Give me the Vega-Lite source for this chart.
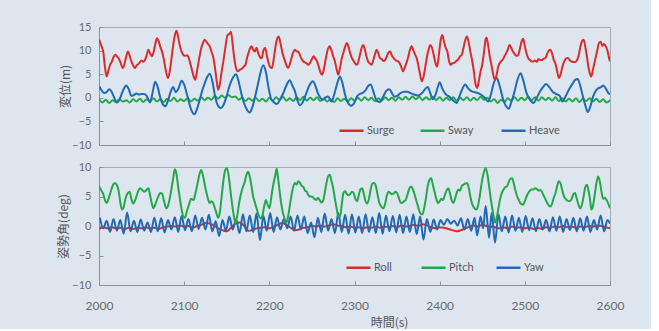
{
"$schema": "https://vega.github.io/schema/vega-lite/v6.json",
"background": "#dde6ee",
"padding": {"left": 56, "top": 20, "right": 26, "bottom": 0},
"spacing": 22,
"bounds": "flush",
"config": {
  "view": {"stroke": "#a3abb3", "strokeWidth": 1},
  "axis": {"domainColor": "#8c9196", "tickColor": "#8c9196", "labelColor": "#6a6a6a", "titleColor": "#555555", "grid": false, "labelFont": "Lato", "labelFontSize": 11, "titleFont": "Noto Sans CJK JP", "titleFontSize": 12, "titleFontWeight": "normal", "tickSize": -4, "labelFlush": false},
  "legend": {"labelFont": "Lato", "labelFontSize": 11, "labelColor": "#555555"}
},
"resolve": {"scale": {"color": "independent", "y": "independent"}, "legend": {"color": "independent"}},
"datasets": {
"top": [
{"k":"Sway","t":2000,"v":-0.2},{"k":"Sway","t":2004,"v":-1.0},{"k":"Sway","t":2008,"v":-0.4},{"k":"Sway","t":2012,"v":-1.1},{"k":"Sway","t":2016,"v":-0.5},{"k":"Sway","t":2020,"v":-0.9},{"k":"Sway","t":2024,"v":-0.3},{"k":"Sway","t":2028,"v":-0.8},{"k":"Sway","t":2032,"v":-0.5},{"k":"Sway","t":2036,"v":-1.0},{"k":"Sway","t":2040,"v":-0.3},{"k":"Sway","t":2044,"v":-0.8},{"k":"Sway","t":2048,"v":-0.2},{"k":"Sway","t":2052,"v":-0.9},{"k":"Sway","t":2056,"v":-0.3},{"k":"Sway","t":2060,"v":-0.7},{"k":"Sway","t":2064,"v":-0.1},{"k":"Sway","t":2068,"v":-0.8},{"k":"Sway","t":2072,"v":-0.3},{"k":"Sway","t":2076,"v":-0.9},{"k":"Sway","t":2080,"v":-0.2},{"k":"Sway","t":2084,"v":-0.7},{"k":"Sway","t":2088,"v":0.0},{"k":"Sway","t":2092,"v":-0.8},{"k":"Sway","t":2096,"v":-0.3},{"k":"Sway","t":2100,"v":-0.7},{"k":"Sway","t":2104,"v":-0.1},{"k":"Sway","t":2108,"v":-0.8},{"k":"Sway","t":2112,"v":-0.2},{"k":"Sway","t":2116,"v":-0.6},{"k":"Sway","t":2120,"v":0.1},{"k":"Sway","t":2124,"v":-0.5},{"k":"Sway","t":2128,"v":0.0},{"k":"Sway","t":2132,"v":-0.4},{"k":"Sway","t":2136,"v":0.4},{"k":"Sway","t":2140,"v":-0.2},{"k":"Sway","t":2144,"v":0.5},{"k":"Sway","t":2148,"v":0.0},{"k":"Sway","t":2152,"v":0.6},{"k":"Sway","t":2156,"v":0.1},{"k":"Sway","t":2160,"v":0.3},{"k":"Sway","t":2164,"v":-0.4},{"k":"Sway","t":2168,"v":0.0},{"k":"Sway","t":2172,"v":-0.7},{"k":"Sway","t":2176,"v":-0.1},{"k":"Sway","t":2180,"v":-0.6},{"k":"Sway","t":2184,"v":0.0},{"k":"Sway","t":2188,"v":-0.7},{"k":"Sway","t":2192,"v":-0.2},{"k":"Sway","t":2196,"v":-0.8},{"k":"Sway","t":2200,"v":0.0},{"k":"Sway","t":2204,"v":-0.6},{"k":"Sway","t":2208,"v":0.1},{"k":"Sway","t":2212,"v":-0.5},{"k":"Sway","t":2216,"v":0.2},{"k":"Sway","t":2220,"v":-0.6},{"k":"Sway","t":2224,"v":-0.1},{"k":"Sway","t":2228,"v":-0.7},{"k":"Sway","t":2232,"v":0.1},{"k":"Sway","t":2236,"v":-0.5},{"k":"Sway","t":2240,"v":0.2},{"k":"Sway","t":2244,"v":-0.6},{"k":"Sway","t":2248,"v":0.0},{"k":"Sway","t":2252,"v":-0.5},{"k":"Sway","t":2256,"v":0.1},{"k":"Sway","t":2260,"v":-0.7},{"k":"Sway","t":2264,"v":-0.2},{"k":"Sway","t":2268,"v":-0.8},{"k":"Sway","t":2272,"v":-0.3},{"k":"Sway","t":2276,"v":-0.9},{"k":"Sway","t":2280,"v":-0.1},{"k":"Sway","t":2284,"v":-0.7},{"k":"Sway","t":2288,"v":-0.2},{"k":"Sway","t":2292,"v":-0.8},{"k":"Sway","t":2296,"v":-0.1},{"k":"Sway","t":2300,"v":-0.6},{"k":"Sway","t":2304,"v":0.0},{"k":"Sway","t":2308,"v":-0.6},{"k":"Sway","t":2312,"v":0.1},{"k":"Sway","t":2316,"v":-0.5},{"k":"Sway","t":2320,"v":0.0},{"k":"Sway","t":2324,"v":-0.7},{"k":"Sway","t":2328,"v":-0.1},{"k":"Sway","t":2332,"v":-0.6},{"k":"Sway","t":2336,"v":0.1},{"k":"Sway","t":2340,"v":-0.5},{"k":"Sway","t":2344,"v":0.0},{"k":"Sway","t":2348,"v":-0.6},{"k":"Sway","t":2352,"v":0.1},{"k":"Sway","t":2356,"v":-0.4},{"k":"Sway","t":2360,"v":0.2},{"k":"Sway","t":2364,"v":-0.4},{"k":"Sway","t":2368,"v":0.3},{"k":"Sway","t":2372,"v":-0.3},{"k":"Sway","t":2376,"v":0.2},{"k":"Sway","t":2380,"v":-0.5},{"k":"Sway","t":2384,"v":0.1},{"k":"Sway","t":2388,"v":-0.4},{"k":"Sway","t":2392,"v":0.2},{"k":"Sway","t":2396,"v":-0.5},{"k":"Sway","t":2400,"v":0.1},{"k":"Sway","t":2404,"v":-0.6},{"k":"Sway","t":2408,"v":0.0},{"k":"Sway","t":2412,"v":-0.5},{"k":"Sway","t":2416,"v":0.1},{"k":"Sway","t":2420,"v":-0.6},{"k":"Sway","t":2424,"v":0.0},{"k":"Sway","t":2428,"v":-0.5},{"k":"Sway","t":2432,"v":0.1},{"k":"Sway","t":2436,"v":-0.6},{"k":"Sway","t":2440,"v":0.0},{"k":"Sway","t":2444,"v":-0.5},{"k":"Sway","t":2448,"v":0.2},{"k":"Sway","t":2452,"v":-0.4},{"k":"Sway","t":2456,"v":0.0},{"k":"Sway","t":2460,"v":-0.8},{"k":"Sway","t":2464,"v":-0.3},{"k":"Sway","t":2468,"v":-1.1},{"k":"Sway","t":2472,"v":-0.4},{"k":"Sway","t":2476,"v":-0.9},{"k":"Sway","t":2480,"v":-0.1},{"k":"Sway","t":2484,"v":-0.6},{"k":"Sway","t":2488,"v":0.1},{"k":"Sway","t":2492,"v":-0.6},{"k":"Sway","t":2496,"v":0.0},{"k":"Sway","t":2500,"v":-0.5},{"k":"Sway","t":2504,"v":0.2},{"k":"Sway","t":2508,"v":-0.5},{"k":"Sway","t":2512,"v":0.1},{"k":"Sway","t":2516,"v":-0.6},{"k":"Sway","t":2520,"v":0.1},{"k":"Sway","t":2524,"v":-0.5},{"k":"Sway","t":2528,"v":0.0},{"k":"Sway","t":2532,"v":-0.6},{"k":"Sway","t":2536,"v":0.1},{"k":"Sway","t":2540,"v":-0.7},{"k":"Sway","t":2544,"v":-0.1},{"k":"Sway","t":2548,"v":-0.8},{"k":"Sway","t":2552,"v":-0.2},{"k":"Sway","t":2556,"v":-0.8},{"k":"Sway","t":2560,"v":-0.1},{"k":"Sway","t":2564,"v":-0.9},{"k":"Sway","t":2568,"v":-0.2},{"k":"Sway","t":2572,"v":-0.7},{"k":"Sway","t":2576,"v":-0.1},{"k":"Sway","t":2580,"v":-0.8},{"k":"Sway","t":2584,"v":-0.2},{"k":"Sway","t":2588,"v":-0.9},{"k":"Sway","t":2592,"v":-0.3},{"k":"Sway","t":2596,"v":-1.0},{"k":"Sway","t":2600,"v":-0.5},
{"k":"Heave","t":2000,"v":2.5},{"k":"Heave","t":2003,"v":1.6},{"k":"Heave","t":2006,"v":1.0},{"k":"Heave","t":2009,"v":1.2},{"k":"Heave","t":2012,"v":1.8},{"k":"Heave","t":2014,"v":1.5},{"k":"Heave","t":2017,"v":0.4},{"k":"Heave","t":2021,"v":-1.0},{"k":"Heave","t":2024,"v":-0.4},{"k":"Heave","t":2027,"v":1.0},{"k":"Heave","t":2030,"v":2.2},{"k":"Heave","t":2032,"v":2.6},{"k":"Heave","t":2035,"v":1.8},{"k":"Heave","t":2038,"v":0.4},{"k":"Heave","t":2041,"v":0.6},{"k":"Heave","t":2044,"v":0.9},{"k":"Heave","t":2047,"v":0.7},{"k":"Heave","t":2050,"v":0.8},{"k":"Heave","t":2053,"v":0.8},{"k":"Heave","t":2056,"v":0.4},{"k":"Heave","t":2060,"v":-1.0},{"k":"Heave","t":2063,"v":1.2},{"k":"Heave","t":2066,"v":3.4},{"k":"Heave","t":2069,"v":2.2},{"k":"Heave","t":2072,"v":0.0},{"k":"Heave","t":2075,"v":-1.4},{"k":"Heave","t":2078,"v":-1.8},{"k":"Heave","t":2081,"v":-0.6},{"k":"Heave","t":2084,"v":1.2},{"k":"Heave","t":2087,"v":2.3},{"k":"Heave","t":2090,"v":1.2},{"k":"Heave","t":2093,"v":1.8},{"k":"Heave","t":2097,"v":3.6},{"k":"Heave","t":2100,"v":2.8},{"k":"Heave","t":2104,"v":0.2},{"k":"Heave","t":2108,"v":-2.4},{"k":"Heave","t":2112,"v":-3.5},{"k":"Heave","t":2115,"v":-2.4},{"k":"Heave","t":2118,"v":-0.6},{"k":"Heave","t":2121,"v":1.4},{"k":"Heave","t":2124,"v":3.0},{"k":"Heave","t":2127,"v":4.4},{"k":"Heave","t":2130,"v":5.1},{"k":"Heave","t":2133,"v":3.6},{"k":"Heave","t":2136,"v":0.6},{"k":"Heave","t":2139,"v":-1.4},{"k":"Heave","t":2143,"v":-2.2},{"k":"Heave","t":2146,"v":-1.6},{"k":"Heave","t":2150,"v":0.4},{"k":"Heave","t":2153,"v":2.4},{"k":"Heave","t":2157,"v":4.2},{"k":"Heave","t":2161,"v":5.0},{"k":"Heave","t":2164,"v":3.4},{"k":"Heave","t":2167,"v":1.0},{"k":"Heave","t":2170,"v":-1.0},{"k":"Heave","t":2174,"v":-2.6},{"k":"Heave","t":2177,"v":-3.1},{"k":"Heave","t":2180,"v":-2.0},{"k":"Heave","t":2184,"v":0.8},{"k":"Heave","t":2187,"v":3.2},{"k":"Heave","t":2190,"v":5.6},{"k":"Heave","t":2193,"v":6.9},{"k":"Heave","t":2196,"v":5.4},{"k":"Heave","t":2199,"v":2.2},{"k":"Heave","t":2202,"v":-0.2},{"k":"Heave","t":2205,"v":-0.9},{"k":"Heave","t":2209,"v":-1.3},{"k":"Heave","t":2213,"v":-0.2},{"k":"Heave","t":2216,"v":0.8},{"k":"Heave","t":2220,"v":2.6},{"k":"Heave","t":2224,"v":3.7},{"k":"Heave","t":2227,"v":2.6},{"k":"Heave","t":2230,"v":1.4},{"k":"Heave","t":2233,"v":-0.6},{"k":"Heave","t":2236,"v":-1.6},{"k":"Heave","t":2239,"v":-1.0},{"k":"Heave","t":2243,"v":0.8},{"k":"Heave","t":2247,"v":2.6},{"k":"Heave","t":2251,"v":3.5},{"k":"Heave","t":2254,"v":2.6},{"k":"Heave","t":2257,"v":1.0},{"k":"Heave","t":2260,"v":0.0},{"k":"Heave","t":2263,"v":-0.4},{"k":"Heave","t":2266,"v":0.1},{"k":"Heave","t":2269,"v":0.3},{"k":"Heave","t":2273,"v":-0.8},{"k":"Heave","t":2276,"v":0.6},{"k":"Heave","t":2280,"v":3.2},{"k":"Heave","t":2283,"v":4.5},{"k":"Heave","t":2286,"v":3.0},{"k":"Heave","t":2289,"v":0.6},{"k":"Heave","t":2292,"v":-0.9},{"k":"Heave","t":2296,"v":-1.7},{"k":"Heave","t":2300,"v":-1.0},{"k":"Heave","t":2303,"v":0.3},{"k":"Heave","t":2306,"v":0.8},{"k":"Heave","t":2309,"v":1.0},{"k":"Heave","t":2313,"v":1.6},{"k":"Heave","t":2316,"v":2.5},{"k":"Heave","t":2319,"v":2.8},{"k":"Heave","t":2322,"v":1.4},{"k":"Heave","t":2326,"v":-0.6},{"k":"Heave","t":2330,"v":-0.9},{"k":"Heave","t":2334,"v":0.4},{"k":"Heave","t":2338,"v":1.6},{"k":"Heave","t":2341,"v":1.8},{"k":"Heave","t":2344,"v":1.0},{"k":"Heave","t":2347,"v":0.2},{"k":"Heave","t":2350,"v":0.4},{"k":"Heave","t":2354,"v":1.0},{"k":"Heave","t":2358,"v":1.3},{"k":"Heave","t":2362,"v":1.3},{"k":"Heave","t":2366,"v":1.0},{"k":"Heave","t":2370,"v":0.7},{"k":"Heave","t":2374,"v":0.5},{"k":"Heave","t":2378,"v":0.8},{"k":"Heave","t":2382,"v":1.6},{"k":"Heave","t":2386,"v":2.3},{"k":"Heave","t":2389,"v":1.0},{"k":"Heave","t":2392,"v":-0.3},{"k":"Heave","t":2395,"v":0.6},{"k":"Heave","t":2398,"v":2.4},{"k":"Heave","t":2400,"v":3.3},{"k":"Heave","t":2403,"v":2.0},{"k":"Heave","t":2407,"v":0.8},{"k":"Heave","t":2411,"v":0.3},{"k":"Heave","t":2415,"v":-0.4},{"k":"Heave","t":2420,"v":-1.1},{"k":"Heave","t":2423,"v":0.2},{"k":"Heave","t":2426,"v":1.6},{"k":"Heave","t":2430,"v":2.8},{"k":"Heave","t":2433,"v":2.1},{"k":"Heave","t":2437,"v":1.4},{"k":"Heave","t":2441,"v":1.2},{"k":"Heave","t":2445,"v":1.0},{"k":"Heave","t":2449,"v":0.6},{"k":"Heave","t":2453,"v":0.0},{"k":"Heave","t":2457,"v":-0.8},{"k":"Heave","t":2460,"v":0.6},{"k":"Heave","t":2463,"v":2.8},{"k":"Heave","t":2467,"v":4.2},{"k":"Heave","t":2470,"v":2.8},{"k":"Heave","t":2474,"v":0.0},{"k":"Heave","t":2478,"v":-1.8},{"k":"Heave","t":2481,"v":-2.3},{"k":"Heave","t":2484,"v":-1.0},{"k":"Heave","t":2488,"v":1.4},{"k":"Heave","t":2491,"v":3.6},{"k":"Heave","t":2495,"v":5.2},{"k":"Heave","t":2498,"v":3.8},{"k":"Heave","t":2502,"v":1.0},{"k":"Heave","t":2506,"v":-0.4},{"k":"Heave","t":2510,"v":-1.1},{"k":"Heave","t":2514,"v":0.0},{"k":"Heave","t":2518,"v":1.4},{"k":"Heave","t":2522,"v":2.4},{"k":"Heave","t":2525,"v":2.9},{"k":"Heave","t":2529,"v":2.2},{"k":"Heave","t":2533,"v":1.2},{"k":"Heave","t":2537,"v":0.8},{"k":"Heave","t":2541,"v":0.4},{"k":"Heave","t":2544,"v":-0.8},{"k":"Heave","t":2548,"v":0.4},{"k":"Heave","t":2552,"v":1.8},{"k":"Heave","t":2556,"v":3.0},{"k":"Heave","t":2559,"v":3.8},{"k":"Heave","t":2562,"v":4.0},{"k":"Heave","t":2565,"v":2.6},{"k":"Heave","t":2568,"v":0.4},{"k":"Heave","t":2571,"v":-1.6},{"k":"Heave","t":2574,"v":-3.0},{"k":"Heave","t":2577,"v":-1.8},{"k":"Heave","t":2580,"v":0.2},{"k":"Heave","t":2583,"v":1.4},{"k":"Heave","t":2586,"v":2.0},{"k":"Heave","t":2589,"v":2.2},{"k":"Heave","t":2592,"v":2.6},{"k":"Heave","t":2595,"v":2.0},{"k":"Heave","t":2598,"v":1.0},{"k":"Heave","t":2600,"v":0.8},
{"k":"Surge","t":2000,"v":12.3},{"k":"Surge","t":2001,"v":11.9},{"k":"Surge","t":2003,"v":10.9},{"k":"Surge","t":2005,"v":9.8},{"k":"Surge","t":2007,"v":6.5},{"k":"Surge","t":2009,"v":4.5},{"k":"Surge","t":2011,"v":5.8},{"k":"Surge","t":2013,"v":7.0},{"k":"Surge","t":2015,"v":7.6},{"k":"Surge","t":2017,"v":8.6},{"k":"Surge","t":2019,"v":9.1},{"k":"Surge","t":2021,"v":8.8},{"k":"Surge","t":2023,"v":8.4},{"k":"Surge","t":2025,"v":7.6},{"k":"Surge","t":2028,"v":6.3},{"k":"Surge","t":2030,"v":7.2},{"k":"Surge","t":2032,"v":8.8},{"k":"Surge","t":2034,"v":9.8},{"k":"Surge","t":2036,"v":8.9},{"k":"Surge","t":2038,"v":7.7},{"k":"Surge","t":2040,"v":6.9},{"k":"Surge","t":2042,"v":6.3},{"k":"Surge","t":2044,"v":6.8},{"k":"Surge","t":2047,"v":7.3},{"k":"Surge","t":2050,"v":7.9},{"k":"Surge","t":2052,"v":7.6},{"k":"Surge","t":2054,"v":8.0},{"k":"Surge","t":2056,"v":9.0},{"k":"Surge","t":2058,"v":10.2},{"k":"Surge","t":2060,"v":9.4},{"k":"Surge","t":2062,"v":8.8},{"k":"Surge","t":2064,"v":9.6},{"k":"Surge","t":2066,"v":11.3},{"k":"Surge","t":2068,"v":12.6},{"k":"Surge","t":2070,"v":12.0},{"k":"Surge","t":2072,"v":10.8},{"k":"Surge","t":2074,"v":9.8},{"k":"Surge","t":2076,"v":8.3},{"k":"Surge","t":2078,"v":6.2},{"k":"Surge","t":2081,"v":4.2},{"k":"Surge","t":2083,"v":5.5},{"k":"Surge","t":2085,"v":8.2},{"k":"Surge","t":2087,"v":11.0},{"k":"Surge","t":2089,"v":13.2},{"k":"Surge","t":2091,"v":14.2},{"k":"Surge","t":2093,"v":12.8},{"k":"Surge","t":2095,"v":11.0},{"k":"Surge","t":2097,"v":9.8},{"k":"Surge","t":2099,"v":9.1},{"k":"Surge","t":2101,"v":8.9},{"k":"Surge","t":2103,"v":9.0},{"k":"Surge","t":2105,"v":8.6},{"k":"Surge","t":2107,"v":7.4},{"k":"Surge","t":2109,"v":6.0},{"k":"Surge","t":2111,"v":4.6},{"k":"Surge","t":2113,"v":3.8},{"k":"Surge","t":2115,"v":5.6},{"k":"Surge","t":2118,"v":8.7},{"k":"Surge","t":2120,"v":10.5},{"k":"Surge","t":2122,"v":11.6},{"k":"Surge","t":2124,"v":12.3},{"k":"Surge","t":2126,"v":11.9},{"k":"Surge","t":2128,"v":11.4},{"k":"Surge","t":2130,"v":10.9},{"k":"Surge","t":2132,"v":9.8},{"k":"Surge","t":2134,"v":8.7},{"k":"Surge","t":2136,"v":6.6},{"k":"Surge","t":2138,"v":3.8},{"k":"Surge","t":2140,"v":1.7},{"k":"Surge","t":2142,"v":3.0},{"k":"Surge","t":2144,"v":5.5},{"k":"Surge","t":2146,"v":7.7},{"k":"Surge","t":2148,"v":10.2},{"k":"Surge","t":2151,"v":13.3},{"k":"Surge","t":2153,"v":13.5},{"k":"Surge","t":2155,"v":14.0},{"k":"Surge","t":2157,"v":11.2},{"k":"Surge","t":2159,"v":8.2},{"k":"Surge","t":2161,"v":6.2},{"k":"Surge","t":2163,"v":5.6},{"k":"Surge","t":2165,"v":5.9},{"k":"Surge","t":2168,"v":6.2},{"k":"Surge","t":2170,"v":6.6},{"k":"Surge","t":2172,"v":7.0},{"k":"Surge","t":2174,"v":8.6},{"k":"Surge","t":2176,"v":9.8},{"k":"Surge","t":2179,"v":10.9},{"k":"Surge","t":2181,"v":10.2},{"k":"Surge","t":2183,"v":9.8},{"k":"Surge","t":2185,"v":10.6},{"k":"Surge","t":2187,"v":9.4},{"k":"Surge","t":2189,"v":8.6},{"k":"Surge","t":2191,"v":8.4},{"k":"Surge","t":2193,"v":10.0},{"k":"Surge","t":2195,"v":10.6},{"k":"Surge","t":2197,"v":9.0},{"k":"Surge","t":2199,"v":7.5},{"k":"Surge","t":2201,"v":6.5},{"k":"Surge","t":2203,"v":6.3},{"k":"Surge","t":2205,"v":8.0},{"k":"Surge","t":2207,"v":10.6},{"k":"Surge","t":2209,"v":12.4},{"k":"Surge","t":2211,"v":13.0},{"k":"Surge","t":2213,"v":11.6},{"k":"Surge","t":2216,"v":9.1},{"k":"Surge","t":2218,"v":8.0},{"k":"Surge","t":2220,"v":6.9},{"k":"Surge","t":2222,"v":6.3},{"k":"Surge","t":2224,"v":7.1},{"k":"Surge","t":2226,"v":8.4},{"k":"Surge","t":2228,"v":9.6},{"k":"Surge","t":2230,"v":10.2},{"k":"Surge","t":2232,"v":9.8},{"k":"Surge","t":2234,"v":9.8},{"k":"Surge","t":2236,"v":9.0},{"k":"Surge","t":2238,"v":8.2},{"k":"Surge","t":2240,"v":7.7},{"k":"Surge","t":2243,"v":7.4},{"k":"Surge","t":2246,"v":7.0},{"k":"Surge","t":2248,"v":7.5},{"k":"Surge","t":2250,"v":8.2},{"k":"Surge","t":2252,"v":8.8},{"k":"Surge","t":2254,"v":8.3},{"k":"Surge","t":2256,"v":7.7},{"k":"Surge","t":2258,"v":6.6},{"k":"Surge","t":2260,"v":5.4},{"k":"Surge","t":2262,"v":4.9},{"k":"Surge","t":2264,"v":6.0},{"k":"Surge","t":2266,"v":8.0},{"k":"Surge","t":2268,"v":9.8},{"k":"Surge","t":2271,"v":10.9},{"k":"Surge","t":2273,"v":10.0},{"k":"Surge","t":2275,"v":8.8},{"k":"Surge","t":2277,"v":7.7},{"k":"Surge","t":2279,"v":6.1},{"k":"Surge","t":2281,"v":4.9},{"k":"Surge","t":2283,"v":6.4},{"k":"Surge","t":2285,"v":8.3},{"k":"Surge","t":2287,"v":9.6},{"k":"Surge","t":2289,"v":10.8},{"k":"Surge","t":2291,"v":11.6},{"k":"Surge","t":2293,"v":10.8},{"k":"Surge","t":2295,"v":9.4},{"k":"Surge","t":2297,"v":8.4},{"k":"Surge","t":2299,"v":7.8},{"k":"Surge","t":2301,"v":7.2},{"k":"Surge","t":2303,"v":7.0},{"k":"Surge","t":2305,"v":8.0},{"k":"Surge","t":2307,"v":9.6},{"k":"Surge","t":2310,"v":11.2},{"k":"Surge","t":2312,"v":10.4},{"k":"Surge","t":2314,"v":8.8},{"k":"Surge","t":2316,"v":7.7},{"k":"Surge","t":2318,"v":7.3},{"k":"Surge","t":2320,"v":7.0},{"k":"Surge","t":2322,"v":7.9},{"k":"Surge","t":2324,"v":9.2},{"k":"Surge","t":2326,"v":10.2},{"k":"Surge","t":2328,"v":9.4},{"k":"Surge","t":2330,"v":8.4},{"k":"Surge","t":2332,"v":8.2},{"k":"Surge","t":2334,"v":7.8},{"k":"Surge","t":2336,"v":8.0},{"k":"Surge","t":2338,"v":8.8},{"k":"Surge","t":2340,"v":9.6},{"k":"Surge","t":2342,"v":9.8},{"k":"Surge","t":2344,"v":8.9},{"k":"Surge","t":2346,"v":8.4},{"k":"Surge","t":2348,"v":8.0},{"k":"Surge","t":2350,"v":7.8},{"k":"Surge","t":2352,"v":7.6},{"k":"Surge","t":2355,"v":6.5},{"k":"Surge","t":2357,"v":5.6},{"k":"Surge","t":2359,"v":6.4},{"k":"Surge","t":2361,"v":7.4},{"k":"Surge","t":2363,"v":8.6},{"k":"Surge","t":2365,"v":10.1},{"k":"Surge","t":2367,"v":10.9},{"k":"Surge","t":2369,"v":10.1},{"k":"Surge","t":2371,"v":9.2},{"k":"Surge","t":2373,"v":8.4},{"k":"Surge","t":2375,"v":6.8},{"k":"Surge","t":2377,"v":5.0},{"k":"Surge","t":2379,"v":3.5},{"k":"Surge","t":2381,"v":4.4},{"k":"Surge","t":2383,"v":6.4},{"k":"Surge","t":2385,"v":8.6},{"k":"Surge","t":2387,"v":10.2},{"k":"Surge","t":2389,"v":11.2},{"k":"Surge","t":2391,"v":10.6},{"k":"Surge","t":2393,"v":9.1},{"k":"Surge","t":2395,"v":7.4},{"k":"Surge","t":2397,"v":6.6},{"k":"Surge","t":2399,"v":9.0},{"k":"Surge","t":2401,"v":12.0},{"k":"Surge","t":2403,"v":13.3},{"k":"Surge","t":2405,"v":12.0},{"k":"Surge","t":2407,"v":10.6},{"k":"Surge","t":2409,"v":9.8},{"k":"Surge","t":2411,"v":7.8},{"k":"Surge","t":2413,"v":7.0},{"k":"Surge","t":2415,"v":7.3},{"k":"Surge","t":2417,"v":7.4},{"k":"Surge","t":2419,"v":7.7},{"k":"Surge","t":2422,"v":8.2},{"k":"Surge","t":2424,"v":8.8},{"k":"Surge","t":2426,"v":9.1},{"k":"Surge","t":2428,"v":10.6},{"k":"Surge","t":2430,"v":12.2},{"k":"Surge","t":2432,"v":13.0},{"k":"Surge","t":2434,"v":11.8},{"k":"Surge","t":2436,"v":9.8},{"k":"Surge","t":2438,"v":8.0},{"k":"Surge","t":2440,"v":5.8},{"k":"Surge","t":2442,"v":3.0},{"k":"Surge","t":2444,"v":2.1},{"k":"Surge","t":2446,"v":3.6},{"k":"Surge","t":2448,"v":5.6},{"k":"Surge","t":2450,"v":7.0},{"k":"Surge","t":2452,"v":9.6},{"k":"Surge","t":2454,"v":12.4},{"k":"Surge","t":2455,"v":12.8},{"k":"Surge","t":2457,"v":11.0},{"k":"Surge","t":2459,"v":8.6},{"k":"Surge","t":2461,"v":6.8},{"k":"Surge","t":2463,"v":4.8},{"k":"Surge","t":2465,"v":3.8},{"k":"Surge","t":2467,"v":5.0},{"k":"Surge","t":2469,"v":6.8},{"k":"Surge","t":2472,"v":7.7},{"k":"Surge","t":2474,"v":8.1},{"k":"Surge","t":2477,"v":9.1},{"k":"Surge","t":2480,"v":10.2},{"k":"Surge","t":2482,"v":11.2},{"k":"Surge","t":2484,"v":10.6},{"k":"Surge","t":2486,"v":9.8},{"k":"Surge","t":2488,"v":9.3},{"k":"Surge","t":2490,"v":8.9},{"k":"Surge","t":2492,"v":9.0},{"k":"Surge","t":2494,"v":10.2},{"k":"Surge","t":2496,"v":11.8},{"k":"Surge","t":2498,"v":12.5},{"k":"Surge","t":2500,"v":11.0},{"k":"Surge","t":2502,"v":9.4},{"k":"Surge","t":2504,"v":8.4},{"k":"Surge","t":2506,"v":8.0},{"k":"Surge","t":2508,"v":7.7},{"k":"Surge","t":2510,"v":7.7},{"k":"Surge","t":2512,"v":7.9},{"k":"Surge","t":2514,"v":7.6},{"k":"Surge","t":2516,"v":8.2},{"k":"Surge","t":2518,"v":8.0},{"k":"Surge","t":2520,"v":8.0},{"k":"Surge","t":2522,"v":8.3},{"k":"Surge","t":2524,"v":8.4},{"k":"Surge","t":2526,"v":9.2},{"k":"Surge","t":2528,"v":10.0},{"k":"Surge","t":2530,"v":10.2},{"k":"Surge","t":2532,"v":9.4},{"k":"Surge","t":2534,"v":8.0},{"k":"Surge","t":2536,"v":7.2},{"k":"Surge","t":2538,"v":5.6},{"k":"Surge","t":2540,"v":4.2},{"k":"Surge","t":2542,"v":5.0},{"k":"Surge","t":2544,"v":6.5},{"k":"Surge","t":2546,"v":7.6},{"k":"Surge","t":2549,"v":8.4},{"k":"Surge","t":2551,"v":8.4},{"k":"Surge","t":2553,"v":7.9},{"k":"Surge","t":2555,"v":7.7},{"k":"Surge","t":2557,"v":7.6},{"k":"Surge","t":2559,"v":7.6},{"k":"Surge","t":2561,"v":7.9},{"k":"Surge","t":2563,"v":8.8},{"k":"Surge","t":2565,"v":10.6},{"k":"Surge","t":2567,"v":12.0},{"k":"Surge","t":2569,"v":12.3},{"k":"Surge","t":2571,"v":10.8},{"k":"Surge","t":2573,"v":8.6},{"k":"Surge","t":2575,"v":6.2},{"k":"Surge","t":2577,"v":4.8},{"k":"Surge","t":2578,"v":4.5},{"k":"Surge","t":2580,"v":6.0},{"k":"Surge","t":2583,"v":8.4},{"k":"Surge","t":2585,"v":10.0},{"k":"Surge","t":2587,"v":11.6},{"k":"Surge","t":2589,"v":11.9},{"k":"Surge","t":2591,"v":11.0},{"k":"Surge","t":2593,"v":11.4},{"k":"Surge","t":2595,"v":10.9},{"k":"Surge","t":2597,"v":10.0},{"k":"Surge","t":2599,"v":8.4},{"k":"Surge","t":2600,"v":7.7}
],
"bot": [
{"k":"Roll","t":2000,"v":-0.5},{"k":"Roll","t":2005,"v":-0.2},{"k":"Roll","t":2010,"v":-0.4},{"k":"Roll","t":2015,"v":-0.2},{"k":"Roll","t":2020,"v":-0.4},{"k":"Roll","t":2025,"v":-0.3},{"k":"Roll","t":2030,"v":-0.5},{"k":"Roll","t":2035,"v":-0.3},{"k":"Roll","t":2040,"v":-0.5},{"k":"Roll","t":2045,"v":-0.3},{"k":"Roll","t":2050,"v":-0.4},{"k":"Roll","t":2055,"v":-0.2},{"k":"Roll","t":2060,"v":-0.4},{"k":"Roll","t":2065,"v":-0.3},{"k":"Roll","t":2070,"v":-0.5},{"k":"Roll","t":2075,"v":-0.2},{"k":"Roll","t":2080,"v":-0.1},{"k":"Roll","t":2085,"v":0.0},{"k":"Roll","t":2090,"v":-0.1},{"k":"Roll","t":2095,"v":0.1},{"k":"Roll","t":2100,"v":-0.1},{"k":"Roll","t":2105,"v":0.0},{"k":"Roll","t":2110,"v":-0.3},{"k":"Roll","t":2115,"v":0.0},{"k":"Roll","t":2120,"v":0.2},{"k":"Roll","t":2125,"v":0.5},{"k":"Roll","t":2130,"v":0.4},{"k":"Roll","t":2135,"v":0.1},{"k":"Roll","t":2140,"v":-0.4},{"k":"Roll","t":2145,"v":-0.7},{"k":"Roll","t":2150,"v":-0.9},{"k":"Roll","t":2155,"v":-0.3},{"k":"Roll","t":2160,"v":0.4},{"k":"Roll","t":2165,"v":0.6},{"k":"Roll","t":2170,"v":0.1},{"k":"Roll","t":2175,"v":-0.8},{"k":"Roll","t":2180,"v":-0.7},{"k":"Roll","t":2185,"v":-0.4},{"k":"Roll","t":2190,"v":-0.3},{"k":"Roll","t":2195,"v":-0.2},{"k":"Roll","t":2200,"v":-0.4},{"k":"Roll","t":2205,"v":-0.1},{"k":"Roll","t":2210,"v":0.2},{"k":"Roll","t":2215,"v":0.5},{"k":"Roll","t":2220,"v":0.2},{"k":"Roll","t":2225,"v":-0.3},{"k":"Roll","t":2230,"v":-0.7},{"k":"Roll","t":2235,"v":-0.6},{"k":"Roll","t":2240,"v":-0.3},{"k":"Roll","t":2245,"v":-0.2},{"k":"Roll","t":2250,"v":0.0},{"k":"Roll","t":2255,"v":-0.1},{"k":"Roll","t":2260,"v":0.1},{"k":"Roll","t":2265,"v":-0.1},{"k":"Roll","t":2270,"v":0.1},{"k":"Roll","t":2275,"v":0.3},{"k":"Roll","t":2280,"v":0.1},{"k":"Roll","t":2285,"v":0.0},{"k":"Roll","t":2290,"v":-0.2},{"k":"Roll","t":2295,"v":-0.1},{"k":"Roll","t":2300,"v":-0.3},{"k":"Roll","t":2305,"v":-0.2},{"k":"Roll","t":2310,"v":-0.4},{"k":"Roll","t":2315,"v":-0.2},{"k":"Roll","t":2320,"v":-0.3},{"k":"Roll","t":2325,"v":-0.1},{"k":"Roll","t":2330,"v":-0.3},{"k":"Roll","t":2335,"v":-0.1},{"k":"Roll","t":2340,"v":-0.2},{"k":"Roll","t":2345,"v":0.0},{"k":"Roll","t":2350,"v":-0.2},{"k":"Roll","t":2355,"v":0.1},{"k":"Roll","t":2360,"v":-0.1},{"k":"Roll","t":2365,"v":0.0},{"k":"Roll","t":2370,"v":0.2},{"k":"Roll","t":2375,"v":0.0},{"k":"Roll","t":2380,"v":0.3},{"k":"Roll","t":2385,"v":0.1},{"k":"Roll","t":2390,"v":-0.2},{"k":"Roll","t":2395,"v":-0.4},{"k":"Roll","t":2400,"v":-0.2},{"k":"Roll","t":2405,"v":-0.3},{"k":"Roll","t":2410,"v":-0.5},{"k":"Roll","t":2415,"v":-0.7},{"k":"Roll","t":2420,"v":-0.9},{"k":"Roll","t":2425,"v":-0.7},{"k":"Roll","t":2430,"v":-0.4},{"k":"Roll","t":2435,"v":-0.1},{"k":"Roll","t":2440,"v":0.1},{"k":"Roll","t":2445,"v":-0.1},{"k":"Roll","t":2450,"v":0.2},{"k":"Roll","t":2455,"v":0.0},{"k":"Roll","t":2460,"v":-0.1},{"k":"Roll","t":2465,"v":-0.2},{"k":"Roll","t":2470,"v":-0.4},{"k":"Roll","t":2475,"v":-0.2},{"k":"Roll","t":2480,"v":-0.4},{"k":"Roll","t":2485,"v":-0.1},{"k":"Roll","t":2490,"v":-0.3},{"k":"Roll","t":2495,"v":-0.2},{"k":"Roll","t":2500,"v":-0.4},{"k":"Roll","t":2505,"v":-0.2},{"k":"Roll","t":2510,"v":-0.5},{"k":"Roll","t":2515,"v":-0.3},{"k":"Roll","t":2520,"v":-0.5},{"k":"Roll","t":2525,"v":-0.2},{"k":"Roll","t":2530,"v":-0.3},{"k":"Roll","t":2535,"v":-0.1},{"k":"Roll","t":2540,"v":-0.2},{"k":"Roll","t":2545,"v":0.0},{"k":"Roll","t":2550,"v":-0.2},{"k":"Roll","t":2555,"v":-0.1},{"k":"Roll","t":2560,"v":-0.3},{"k":"Roll","t":2565,"v":-0.1},{"k":"Roll","t":2570,"v":-0.2},{"k":"Roll","t":2575,"v":0.0},{"k":"Roll","t":2580,"v":-0.1},{"k":"Roll","t":2585,"v":0.1},{"k":"Roll","t":2590,"v":0.0},{"k":"Roll","t":2595,"v":-0.2},{"k":"Roll","t":2600,"v":-0.4},
{"k":"Yaw","t":2001,"v":1.4},{"k":"Yaw","t":2005,"v":-0.4},{"k":"Yaw","t":2009,"v":0.9},{"k":"Yaw","t":2013,"v":-1.0},{"k":"Yaw","t":2017,"v":1.2},{"k":"Yaw","t":2021,"v":-0.8},{"k":"Yaw","t":2025,"v":1.0},{"k":"Yaw","t":2029,"v":-1.3},{"k":"Yaw","t":2033,"v":2.3},{"k":"Yaw","t":2037,"v":-0.9},{"k":"Yaw","t":2041,"v":0.9},{"k":"Yaw","t":2045,"v":-1.0},{"k":"Yaw","t":2049,"v":1.1},{"k":"Yaw","t":2053,"v":-0.8},{"k":"Yaw","t":2057,"v":0.6},{"k":"Yaw","t":2061,"v":-1.0},{"k":"Yaw","t":2065,"v":1.4},{"k":"Yaw","t":2069,"v":-0.9},{"k":"Yaw","t":2073,"v":1.3},{"k":"Yaw","t":2077,"v":-1.1},{"k":"Yaw","t":2081,"v":1.0},{"k":"Yaw","t":2085,"v":-0.6},{"k":"Yaw","t":2089,"v":1.5},{"k":"Yaw","t":2093,"v":-1.0},{"k":"Yaw","t":2097,"v":1.7},{"k":"Yaw","t":2101,"v":-0.7},{"k":"Yaw","t":2105,"v":1.2},{"k":"Yaw","t":2109,"v":-0.9},{"k":"Yaw","t":2113,"v":1.8},{"k":"Yaw","t":2117,"v":-0.5},{"k":"Yaw","t":2121,"v":1.4},{"k":"Yaw","t":2125,"v":-0.6},{"k":"Yaw","t":2129,"v":1.9},{"k":"Yaw","t":2133,"v":-0.9},{"k":"Yaw","t":2137,"v":0.8},{"k":"Yaw","t":2141,"v":-1.7},{"k":"Yaw","t":2145,"v":1.0},{"k":"Yaw","t":2149,"v":-0.8},{"k":"Yaw","t":2153,"v":1.6},{"k":"Yaw","t":2157,"v":-0.6},{"k":"Yaw","t":2161,"v":1.1},{"k":"Yaw","t":2165,"v":-1.2},{"k":"Yaw","t":2169,"v":2.0},{"k":"Yaw","t":2173,"v":-0.9},{"k":"Yaw","t":2177,"v":1.8},{"k":"Yaw","t":2181,"v":-1.0},{"k":"Yaw","t":2185,"v":2.1},{"k":"Yaw","t":2189,"v":-2.4},{"k":"Yaw","t":2193,"v":1.7},{"k":"Yaw","t":2197,"v":-0.8},{"k":"Yaw","t":2201,"v":2.2},{"k":"Yaw","t":2205,"v":-1.0},{"k":"Yaw","t":2209,"v":1.5},{"k":"Yaw","t":2213,"v":-0.6},{"k":"Yaw","t":2217,"v":1.2},{"k":"Yaw","t":2221,"v":-0.4},{"k":"Yaw","t":2225,"v":1.6},{"k":"Yaw","t":2229,"v":-0.8},{"k":"Yaw","t":2233,"v":1.8},{"k":"Yaw","t":2237,"v":-0.6},{"k":"Yaw","t":2241,"v":1.6},{"k":"Yaw","t":2245,"v":-1.2},{"k":"Yaw","t":2249,"v":0.6},{"k":"Yaw","t":2253,"v":-1.9},{"k":"Yaw","t":2257,"v":1.4},{"k":"Yaw","t":2261,"v":-1.0},{"k":"Yaw","t":2265,"v":2.1},{"k":"Yaw","t":2269,"v":-0.8},{"k":"Yaw","t":2273,"v":1.2},{"k":"Yaw","t":2277,"v":-1.2},{"k":"Yaw","t":2281,"v":2.2},{"k":"Yaw","t":2285,"v":-1.0},{"k":"Yaw","t":2289,"v":1.9},{"k":"Yaw","t":2293,"v":-1.3},{"k":"Yaw","t":2297,"v":2.0},{"k":"Yaw","t":2301,"v":-1.1},{"k":"Yaw","t":2305,"v":1.6},{"k":"Yaw","t":2309,"v":-1.2},{"k":"Yaw","t":2313,"v":2.0},{"k":"Yaw","t":2317,"v":-1.0},{"k":"Yaw","t":2321,"v":1.5},{"k":"Yaw","t":2325,"v":-1.2},{"k":"Yaw","t":2329,"v":2.2},{"k":"Yaw","t":2333,"v":-1.3},{"k":"Yaw","t":2337,"v":1.8},{"k":"Yaw","t":2341,"v":-0.9},{"k":"Yaw","t":2345,"v":1.7},{"k":"Yaw","t":2349,"v":-1.1},{"k":"Yaw","t":2353,"v":1.9},{"k":"Yaw","t":2357,"v":-1.2},{"k":"Yaw","t":2361,"v":1.6},{"k":"Yaw","t":2365,"v":-1.0},{"k":"Yaw","t":2369,"v":2.0},{"k":"Yaw","t":2373,"v":-1.4},{"k":"Yaw","t":2377,"v":1.6},{"k":"Yaw","t":2381,"v":-2.3},{"k":"Yaw","t":2385,"v":1.2},{"k":"Yaw","t":2389,"v":-1.0},{"k":"Yaw","t":2393,"v":1.1},{"k":"Yaw","t":2397,"v":-0.6},{"k":"Yaw","t":2401,"v":1.0},{"k":"Yaw","t":2405,"v":0.2},{"k":"Yaw","t":2409,"v":1.2},{"k":"Yaw","t":2413,"v":0.4},{"k":"Yaw","t":2417,"v":0.9},{"k":"Yaw","t":2421,"v":0.1},{"k":"Yaw","t":2425,"v":1.3},{"k":"Yaw","t":2429,"v":-0.6},{"k":"Yaw","t":2433,"v":1.2},{"k":"Yaw","t":2437,"v":-0.8},{"k":"Yaw","t":2441,"v":1.4},{"k":"Yaw","t":2444,"v":-1.6},{"k":"Yaw","t":2448,"v":1.6},{"k":"Yaw","t":2451,"v":-0.4},{"k":"Yaw","t":2454,"v":3.4},{"k":"Yaw","t":2458,"v":-2.0},{"k":"Yaw","t":2461,"v":2.2},{"k":"Yaw","t":2465,"v":-2.8},{"k":"Yaw","t":2469,"v":2.0},{"k":"Yaw","t":2473,"v":-0.9},{"k":"Yaw","t":2477,"v":1.6},{"k":"Yaw","t":2481,"v":-1.1},{"k":"Yaw","t":2485,"v":1.8},{"k":"Yaw","t":2489,"v":-0.8},{"k":"Yaw","t":2493,"v":1.4},{"k":"Yaw","t":2497,"v":-1.0},{"k":"Yaw","t":2501,"v":1.7},{"k":"Yaw","t":2505,"v":-0.7},{"k":"Yaw","t":2509,"v":1.3},{"k":"Yaw","t":2513,"v":-0.9},{"k":"Yaw","t":2517,"v":1.2},{"k":"Yaw","t":2521,"v":-0.6},{"k":"Yaw","t":2525,"v":1.0},{"k":"Yaw","t":2529,"v":-0.9},{"k":"Yaw","t":2533,"v":1.5},{"k":"Yaw","t":2537,"v":-0.8},{"k":"Yaw","t":2541,"v":1.6},{"k":"Yaw","t":2545,"v":-1.0},{"k":"Yaw","t":2549,"v":1.2},{"k":"Yaw","t":2553,"v":-0.7},{"k":"Yaw","t":2557,"v":1.4},{"k":"Yaw","t":2561,"v":-0.9},{"k":"Yaw","t":2565,"v":1.3},{"k":"Yaw","t":2569,"v":-0.8},{"k":"Yaw","t":2573,"v":1.6},{"k":"Yaw","t":2577,"v":-1.0},{"k":"Yaw","t":2581,"v":1.0},{"k":"Yaw","t":2585,"v":-0.6},{"k":"Yaw","t":2589,"v":1.8},{"k":"Yaw","t":2593,"v":-0.9},{"k":"Yaw","t":2597,"v":1.0},{"k":"Yaw","t":2600,"v":0.4},
{"k":"Pitch","t":2000,"v":6.8},{"k":"Pitch","t":2002,"v":6.2},{"k":"Pitch","t":2005,"v":5.4},{"k":"Pitch","t":2007,"v":4.4},{"k":"Pitch","t":2009,"v":3.9},{"k":"Pitch","t":2012,"v":5.0},{"k":"Pitch","t":2015,"v":6.4},{"k":"Pitch","t":2017,"v":7.1},{"k":"Pitch","t":2019,"v":7.3},{"k":"Pitch","t":2021,"v":6.9},{"k":"Pitch","t":2023,"v":6.0},{"k":"Pitch","t":2025,"v":4.0},{"k":"Pitch","t":2027,"v":2.8},{"k":"Pitch","t":2029,"v":3.2},{"k":"Pitch","t":2031,"v":4.6},{"k":"Pitch","t":2034,"v":5.6},{"k":"Pitch","t":2036,"v":5.8},{"k":"Pitch","t":2038,"v":4.6},{"k":"Pitch","t":2040,"v":3.8},{"k":"Pitch","t":2043,"v":4.6},{"k":"Pitch","t":2046,"v":5.9},{"k":"Pitch","t":2048,"v":6.4},{"k":"Pitch","t":2050,"v":6.2},{"k":"Pitch","t":2053,"v":5.8},{"k":"Pitch","t":2055,"v":6.0},{"k":"Pitch","t":2058,"v":6.4},{"k":"Pitch","t":2060,"v":5.2},{"k":"Pitch","t":2062,"v":3.8},{"k":"Pitch","t":2064,"v":3.0},{"k":"Pitch","t":2066,"v":3.6},{"k":"Pitch","t":2069,"v":4.8},{"k":"Pitch","t":2072,"v":5.6},{"k":"Pitch","t":2074,"v":5.5},{"k":"Pitch","t":2076,"v":4.4},{"k":"Pitch","t":2079,"v":3.0},{"k":"Pitch","t":2081,"v":3.4},{"k":"Pitch","t":2084,"v":5.4},{"k":"Pitch","t":2087,"v":8.0},{"k":"Pitch","t":2089,"v":9.6},{"k":"Pitch","t":2091,"v":8.8},{"k":"Pitch","t":2093,"v":6.6},{"k":"Pitch","t":2095,"v":4.6},{"k":"Pitch","t":2097,"v":2.8},{"k":"Pitch","t":2099,"v":1.6},{"k":"Pitch","t":2101,"v":1.4},{"k":"Pitch","t":2103,"v":2.4},{"k":"Pitch","t":2106,"v":3.8},{"k":"Pitch","t":2108,"v":4.6},{"k":"Pitch","t":2111,"v":4.4},{"k":"Pitch","t":2113,"v":5.4},{"k":"Pitch","t":2116,"v":7.4},{"k":"Pitch","t":2118,"v":8.8},{"k":"Pitch","t":2120,"v":9.5},{"k":"Pitch","t":2122,"v":8.6},{"k":"Pitch","t":2125,"v":6.4},{"k":"Pitch","t":2128,"v":4.6},{"k":"Pitch","t":2130,"v":3.9},{"k":"Pitch","t":2132,"v":4.2},{"k":"Pitch","t":2134,"v":3.9},{"k":"Pitch","t":2137,"v":2.6},{"k":"Pitch","t":2140,"v":1.4},{"k":"Pitch","t":2142,"v":2.4},{"k":"Pitch","t":2144,"v":5.0},{"k":"Pitch","t":2146,"v":7.6},{"k":"Pitch","t":2148,"v":9.4},{"k":"Pitch","t":2150,"v":9.8},{"k":"Pitch","t":2152,"v":8.8},{"k":"Pitch","t":2154,"v":6.4},{"k":"Pitch","t":2156,"v":4.0},{"k":"Pitch","t":2158,"v":2.0},{"k":"Pitch","t":2160,"v":0.5},{"k":"Pitch","t":2162,"v":1.4},{"k":"Pitch","t":2164,"v":3.4},{"k":"Pitch","t":2166,"v":5.0},{"k":"Pitch","t":2168,"v":6.2},{"k":"Pitch","t":2171,"v":7.4},{"k":"Pitch","t":2173,"v":8.6},{"k":"Pitch","t":2175,"v":9.2},{"k":"Pitch","t":2177,"v":8.4},{"k":"Pitch","t":2179,"v":6.8},{"k":"Pitch","t":2181,"v":5.0},{"k":"Pitch","t":2183,"v":4.0},{"k":"Pitch","t":2185,"v":3.0},{"k":"Pitch","t":2187,"v":2.0},{"k":"Pitch","t":2190,"v":1.3},{"k":"Pitch","t":2192,"v":1.8},{"k":"Pitch","t":2194,"v":3.4},{"k":"Pitch","t":2196,"v":4.4},{"k":"Pitch","t":2198,"v":3.6},{"k":"Pitch","t":2200,"v":3.0},{"k":"Pitch","t":2203,"v":5.6},{"k":"Pitch","t":2205,"v":7.3},{"k":"Pitch","t":2207,"v":8.6},{"k":"Pitch","t":2208.6,"v":9.7},{"k":"Pitch","t":2210,"v":8.4},{"k":"Pitch","t":2212,"v":6.0},{"k":"Pitch","t":2214,"v":3.8},{"k":"Pitch","t":2216,"v":2.2},{"k":"Pitch","t":2218,"v":1.2},{"k":"Pitch","t":2220,"v":0.6},{"k":"Pitch","t":2222,"v":1.6},{"k":"Pitch","t":2224,"v":3.4},{"k":"Pitch","t":2226,"v":5.2},{"k":"Pitch","t":2228,"v":6.6},{"k":"Pitch","t":2230,"v":7.3},{"k":"Pitch","t":2232,"v":7.0},{"k":"Pitch","t":2234,"v":7.6},{"k":"Pitch","t":2236,"v":7.3},{"k":"Pitch","t":2238,"v":6.8},{"k":"Pitch","t":2240,"v":6.6},{"k":"Pitch","t":2242,"v":6.0},{"k":"Pitch","t":2244,"v":5.8},{"k":"Pitch","t":2246,"v":5.2},{"k":"Pitch","t":2248,"v":5.0},{"k":"Pitch","t":2250,"v":5.0},{"k":"Pitch","t":2253,"v":4.6},{"k":"Pitch","t":2255,"v":4.4},{"k":"Pitch","t":2257,"v":4.8},{"k":"Pitch","t":2259,"v":4.4},{"k":"Pitch","t":2261,"v":4.0},{"k":"Pitch","t":2263,"v":4.2},{"k":"Pitch","t":2265,"v":5.6},{"k":"Pitch","t":2267,"v":7.2},{"k":"Pitch","t":2269,"v":8.4},{"k":"Pitch","t":2271,"v":8.7},{"k":"Pitch","t":2273,"v":7.6},{"k":"Pitch","t":2275,"v":6.4},{"k":"Pitch","t":2277,"v":4.6},{"k":"Pitch","t":2279,"v":3.0},{"k":"Pitch","t":2281,"v":1.6},{"k":"Pitch","t":2283,"v":1.6},{"k":"Pitch","t":2285,"v":3.6},{"k":"Pitch","t":2287,"v":5.6},{"k":"Pitch","t":2289,"v":5.9},{"k":"Pitch","t":2291,"v":5.4},{"k":"Pitch","t":2293,"v":5.2},{"k":"Pitch","t":2295,"v":5.4},{"k":"Pitch","t":2297,"v":5.8},{"k":"Pitch","t":2299,"v":5.6},{"k":"Pitch","t":2301,"v":4.6},{"k":"Pitch","t":2303,"v":4.2},{"k":"Pitch","t":2305,"v":5.2},{"k":"Pitch","t":2307,"v":6.2},{"k":"Pitch","t":2309,"v":6.4},{"k":"Pitch","t":2311,"v":5.4},{"k":"Pitch","t":2313,"v":4.2},{"k":"Pitch","t":2315,"v":3.8},{"k":"Pitch","t":2317,"v":4.6},{"k":"Pitch","t":2319,"v":6.2},{"k":"Pitch","t":2321,"v":7.2},{"k":"Pitch","t":2323,"v":7.3},{"k":"Pitch","t":2325,"v":6.8},{"k":"Pitch","t":2327,"v":5.4},{"k":"Pitch","t":2329,"v":4.0},{"k":"Pitch","t":2332,"v":3.2},{"k":"Pitch","t":2334,"v":3.0},{"k":"Pitch","t":2336,"v":3.8},{"k":"Pitch","t":2338,"v":5.2},{"k":"Pitch","t":2340,"v":5.8},{"k":"Pitch","t":2342,"v":5.6},{"k":"Pitch","t":2344,"v":5.4},{"k":"Pitch","t":2346,"v":5.5},{"k":"Pitch","t":2348,"v":5.8},{"k":"Pitch","t":2350,"v":5.6},{"k":"Pitch","t":2352,"v":4.8},{"k":"Pitch","t":2354,"v":4.0},{"k":"Pitch","t":2356,"v":3.9},{"k":"Pitch","t":2358,"v":4.2},{"k":"Pitch","t":2360,"v":4.4},{"k":"Pitch","t":2362,"v":5.2},{"k":"Pitch","t":2364,"v":6.2},{"k":"Pitch","t":2366,"v":6.7},{"k":"Pitch","t":2368,"v":6.4},{"k":"Pitch","t":2370,"v":5.6},{"k":"Pitch","t":2372,"v":4.6},{"k":"Pitch","t":2374,"v":3.6},{"k":"Pitch","t":2376,"v":2.6},{"k":"Pitch","t":2378,"v":2.0},{"k":"Pitch","t":2380,"v":2.0},{"k":"Pitch","t":2382,"v":3.2},{"k":"Pitch","t":2384,"v":4.8},{"k":"Pitch","t":2386,"v":6.8},{"k":"Pitch","t":2388,"v":7.8},{"k":"Pitch","t":2390,"v":8.1},{"k":"Pitch","t":2392,"v":7.0},{"k":"Pitch","t":2394,"v":5.8},{"k":"Pitch","t":2396,"v":4.6},{"k":"Pitch","t":2398,"v":3.9},{"k":"Pitch","t":2400,"v":4.2},{"k":"Pitch","t":2402,"v":4.6},{"k":"Pitch","t":2404,"v":4.4},{"k":"Pitch","t":2406,"v":5.2},{"k":"Pitch","t":2408,"v":6.0},{"k":"Pitch","t":2410,"v":6.4},{"k":"Pitch","t":2412,"v":5.6},{"k":"Pitch","t":2414,"v":4.4},{"k":"Pitch","t":2416,"v":3.9},{"k":"Pitch","t":2418,"v":4.6},{"k":"Pitch","t":2420,"v":5.6},{"k":"Pitch","t":2422,"v":6.2},{"k":"Pitch","t":2424,"v":6.0},{"k":"Pitch","t":2426,"v":6.8},{"k":"Pitch","t":2428,"v":7.0},{"k":"Pitch","t":2430,"v":7.2},{"k":"Pitch","t":2432,"v":7.3},{"k":"Pitch","t":2434,"v":6.6},{"k":"Pitch","t":2436,"v":5.0},{"k":"Pitch","t":2438,"v":3.8},{"k":"Pitch","t":2440,"v":3.2},{"k":"Pitch","t":2443,"v":2.8},{"k":"Pitch","t":2445,"v":3.4},{"k":"Pitch","t":2447,"v":5.0},{"k":"Pitch","t":2449,"v":7.0},{"k":"Pitch","t":2451,"v":8.6},{"k":"Pitch","t":2453,"v":9.6},{"k":"Pitch","t":2454,"v":9.8},{"k":"Pitch","t":2456,"v":8.8},{"k":"Pitch","t":2458,"v":6.8},{"k":"Pitch","t":2460,"v":4.6},{"k":"Pitch","t":2462,"v":2.8},{"k":"Pitch","t":2464,"v":1.2},{"k":"Pitch","t":2465,"v":0.6},{"k":"Pitch","t":2467,"v":1.4},{"k":"Pitch","t":2469,"v":3.0},{"k":"Pitch","t":2471,"v":4.6},{"k":"Pitch","t":2473,"v":5.6},{"k":"Pitch","t":2475,"v":6.2},{"k":"Pitch","t":2477,"v":6.6},{"k":"Pitch","t":2479,"v":6.7},{"k":"Pitch","t":2481,"v":7.4},{"k":"Pitch","t":2483,"v":8.0},{"k":"Pitch","t":2485,"v":8.1},{"k":"Pitch","t":2487,"v":7.2},{"k":"Pitch","t":2489,"v":6.0},{"k":"Pitch","t":2491,"v":5.0},{"k":"Pitch","t":2493,"v":4.4},{"k":"Pitch","t":2495,"v":3.8},{"k":"Pitch","t":2498,"v":3.6},{"k":"Pitch","t":2500,"v":4.2},{"k":"Pitch","t":2502,"v":5.0},{"k":"Pitch","t":2504,"v":5.6},{"k":"Pitch","t":2506,"v":6.0},{"k":"Pitch","t":2508,"v":6.2},{"k":"Pitch","t":2510,"v":6.2},{"k":"Pitch","t":2512,"v":6.4},{"k":"Pitch","t":2514,"v":6.3},{"k":"Pitch","t":2516,"v":6.0},{"k":"Pitch","t":2518,"v":6.1},{"k":"Pitch","t":2520,"v":5.8},{"k":"Pitch","t":2522,"v":5.2},{"k":"Pitch","t":2524,"v":4.6},{"k":"Pitch","t":2526,"v":4.0},{"k":"Pitch","t":2528,"v":3.5},{"k":"Pitch","t":2530,"v":3.3},{"k":"Pitch","t":2532,"v":3.8},{"k":"Pitch","t":2534,"v":4.8},{"k":"Pitch","t":2536,"v":5.6},{"k":"Pitch","t":2538,"v":6.8},{"k":"Pitch","t":2540,"v":7.6},{"k":"Pitch","t":2542,"v":7.2},{"k":"Pitch","t":2544,"v":6.0},{"k":"Pitch","t":2546,"v":5.0},{"k":"Pitch","t":2548,"v":4.6},{"k":"Pitch","t":2550,"v":4.3},{"k":"Pitch","t":2553,"v":4.2},{"k":"Pitch","t":2555,"v":4.6},{"k":"Pitch","t":2557,"v":5.4},{"k":"Pitch","t":2559,"v":5.6},{"k":"Pitch","t":2561,"v":4.6},{"k":"Pitch","t":2563,"v":3.6},{"k":"Pitch","t":2565,"v":3.0},{"k":"Pitch","t":2567,"v":3.6},{"k":"Pitch","t":2569,"v":5.0},{"k":"Pitch","t":2571,"v":6.6},{"k":"Pitch","t":2573,"v":7.0},{"k":"Pitch","t":2575,"v":5.8},{"k":"Pitch","t":2577,"v":4.0},{"k":"Pitch","t":2578,"v":2.8},{"k":"Pitch","t":2580,"v":3.4},{"k":"Pitch","t":2582,"v":5.2},{"k":"Pitch","t":2584,"v":7.2},{"k":"Pitch","t":2586,"v":8.4},{"k":"Pitch","t":2588,"v":7.6},{"k":"Pitch","t":2590,"v":5.8},{"k":"Pitch","t":2592,"v":4.6},{"k":"Pitch","t":2594,"v":4.8},{"k":"Pitch","t":2596,"v":4.4},{"k":"Pitch","t":2598,"v":3.8},{"k":"Pitch","t":2600,"v":3.0}
]
},
"vconcat": [
{
  "width": 511, "height": 118,
  "data": {"name": "top"},
  "mark": {"type": "line", "strokeWidth": 2, "interpolate": "monotone", "clip": true},
  "encoding": {
    "x": {"field": "t", "type": "quantitative", "scale": {"domain": [2000, 2600], "nice": false}, "axis": {"values": [2000, 2100, 2200, 2300, 2400, 2500, 2600], "labels": false, "title": null}},
    "y": {"field": "v", "type": "quantitative", "scale": {"domain": [-10, 15], "nice": false, "zero": false}, "axis": {"values": [-10, -5, 0, 5, 10, 15], "labelPadding": 12, "title": "変位(m)", "titleX": -34, "titleY": 59, "titleAngle": 270, "titleAlign": "center", "titleBaseline": "middle"}},
    "color": {"field": "k", "type": "nominal", "scale": {"domain": ["Surge", "Sway", "Heave"], "range": ["#dc2b2b", "#22a84a", "#2069b4"]},
      "legend": {"orient": "none", "legendX": 239, "legendY": 90, "direction": "horizontal", "title": null, "symbolType": "stroke", "symbolSize": 576, "symbolStrokeWidth": 2.5, "labelOffset": 2, "columnPadding": 17, "gridAlign": "all"}}
  }
},
{
  "width": 511, "height": 118,
  "data": {"name": "bot"},
  "mark": {"type": "line", "strokeWidth": 2, "interpolate": "monotone", "clip": true},
  "encoding": {
    "x": {"field": "t", "type": "quantitative", "scale": {"domain": [2000, 2600], "nice": false}, "axis": {"values": [2000, 2100, 2200, 2300, 2400, 2500, 2600], "format": "d", "labelPadding": 19, "labelFontSize": 12, "title": "時間(s)", "titleX": 290, "titleY": 37, "titleAlign": "center", "titleBaseline": "middle"}},
    "y": {"field": "v", "type": "quantitative", "scale": {"domain": [-10, 10], "nice": false, "zero": false}, "axis": {"values": [-10, -5, 0, 5, 10], "labelPadding": 12, "title": "姿勢角(deg)", "titleX": -36, "titleY": 59, "titleAngle": 270, "titleAlign": "center", "titleBaseline": "middle"}},
    "color": {"field": "k", "type": "nominal", "scale": {"domain": ["Roll", "Pitch", "Yaw"], "range": ["#dc2b2b", "#22a84a", "#2069b4"]},
      "legend": {"orient": "none", "legendX": 246, "legendY": 87, "direction": "horizontal", "title": null, "symbolType": "stroke", "symbolSize": 576, "symbolStrokeWidth": 2.5, "labelOffset": 2, "columnPadding": 17, "gridAlign": "all"}}
  }
}
]
}
